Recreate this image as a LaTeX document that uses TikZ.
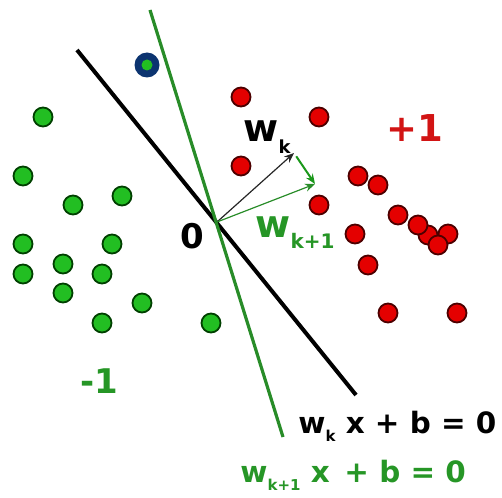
\documentclass[tikz,border=0pt]{standalone}
\usepackage{fontspec}
\setmainfont{DejaVu Sans}
\usetikzlibrary{arrows.meta}
\definecolor{ptgreen}{RGB}{34,190,34}
\definecolor{lngreen}{RGB}{40,140,40}
\definecolor{txgreen}{RGB}{38,150,38}
\definecolor{ptred}{RGB}{228,0,0}
\definecolor{txred}{RGB}{210,20,20}
\definecolor{ringblue}{RGB}{12,52,112}
\newcommand{\fs}[1]{\fontsize{#1}{#1}\selectfont\bfseries}
\newcommand{\lowsub}[2]{\raisebox{-0.3em}{\fs{#1}#2}}

\begin{document}
\begin{tikzpicture}[x=0.5pt, y=-0.5pt, >={Stealth[length=5pt,width=4pt]},
    negdot/.style={circle, draw=black!75!green, fill=ptgreen, line width=0.9pt, minimum size=9.5pt, inner sep=0pt},
    posdot/.style={circle, draw=black!70!red, fill=ptred, line width=0.9pt, minimum size=9.5pt, inner sep=0pt},
    vec/.style={->, line width=0.6pt}]
    \useasboundingbox (0,0) rectangle (502,497);

    % class -1
    \foreach \x/\y [count=\i] in {43/117, 23/176, 73/205, 122/196, 23/244, 112/244, 63/264,
                                 23/274, 102/274, 63/293, 142/303, 102/323, 211/323}
        \node[negdot] (n\i) at (\x,\y) {};
    \node[circle, fill=ringblue, minimum size=12.5pt, inner sep=0pt] (sv) at (147,65) {};
    \node[circle, fill=ptgreen, minimum size=5.5pt, inner sep=0pt] (svin) at (sv) {};

    % class +1
    \foreach \x/\y [count=\i] in {241/97, 319/117, 241/166, 358/176, 378/185, 319/205, 398/215,
                                 428/235, 448/234, 418/225, 438/245, 355/234, 368/265, 388/313, 457/313}
        \node[posdot] (p\i) at (\x,\y) {};

    % separating lines
    \coordinate (O) at (217,222);
    \coordinate (bt) at (77,50);
    \coordinate (bb) at (356,395);
    \coordinate (gt) at (150,10);
    \coordinate (gb) at (283,437);
    \draw[line width=2pt] (bt) -- (bb);
    \draw[lngreen, line width=1.6pt] (gt) -- (gb);

    % weight vectors
    \coordinate (wk) at (294,153);
    \coordinate (wk1) at (315,184);
    \draw[vec, black!85] (O) -- (wk);
    \draw[vec, lngreen] (O) -- (wk1);
    \draw[vec, ptgreen!80!black, line width=1pt, shorten <=2pt] (wk) -- (wk1);

    % labels
    \node[anchor=base west, inner sep=0pt] (lwk) at (243,142) {\fs{19}w\lowsub{9}{k}};
    \node[anchor=base west, inner sep=0pt, txgreen] (lwk1) at (255,237) {\fs{19}w\lowsub{10}{k+1}};
    \node (lO) at (192,236) {\fs{17}0};
    \node[txred] (lpos) at (415,128) {\fs{18.5}+1};
    \node[txgreen] (lneg) at (99,381) {\fs{17}-1};
    \node[anchor=base west, inner sep=0pt] (hk) at (298,433) {\fs{14.7}w\lowsub{7.5}{k} x + b = 0};
    \node[anchor=base west, inner sep=0pt, txgreen] (hk1) at (240,482) {\fs{14.7}w\lowsub{7.5}{k+1} x\hspace{0.15em} + b = 0};
\end{tikzpicture}
\end{document}
